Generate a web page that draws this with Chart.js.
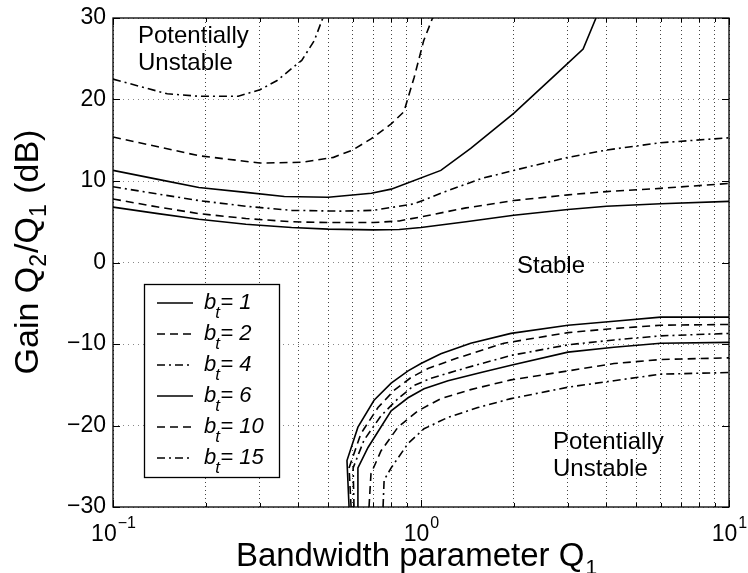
<!DOCTYPE html>
<html>
<head>
<meta charset="utf-8">
<script src="https://cdn.jsdelivr.net/npm/chart.js@4"></script>
<style>
  html, body { margin: 0; padding: 0; background: #fff; }
</style>
</head>
<body>
<canvas id="chart" width="748" height="573"></canvas>
<script>
// axis ticks
const xGridTicks = [0.1, 0.2, 0.3, 0.4, 0.5, 0.6, 0.7, 0.8, 0.9, 1, 2, 3, 4, 5, 6, 7, 8, 9, 10];
const xLabelTicks = [0.1, 1, 10];
const xLabelExp = ['-1', '0', '1'];
const yTicks = [-30, -20, -10, 0, 10, 20, 30];

const btValues = [1, 2, 4, 6, 10, 15];

// upper stability boundary: Q1 and gain (dB)
const upQ1_bt1 = [0.1, 0.14, 0.19, 0.27, 0.38, 0.5, 0.7, 0.85, 1, 1.4, 2, 3, 4, 6, 10];
const upG_bt1 = [6.8, 6.0, 5.3, 4.7, 4.3, 4.1, 4.0, 4.05, 4.3, 5.0, 5.8, 6.5, 6.9, 7.2, 7.5];
const upQ1_bt2 = [0.1, 0.14, 0.19, 0.27, 0.38, 0.5, 0.7, 0.85, 1, 1.4, 2, 3, 4, 6, 10];
const upG_bt2 = [7.8, 6.8, 6.0, 5.4, 5.0, 4.9, 4.9, 5.1, 5.6, 6.7, 7.6, 8.3, 8.7, 9.1, 9.7];
const upQ1_bt4 = [0.1, 0.14, 0.19, 0.27, 0.38, 0.55, 0.7, 0.95, 1.2, 1.57, 2, 3, 4, 6, 10];
const upG_bt4 = [9.3, 8.4, 7.6, 6.9, 6.4, 6.3, 6.4, 7.2, 8.7, 10.3, 11.3, 12.9, 13.8, 14.7, 15.3];
const upQ1_bt6 = [0.1, 0.14, 0.19, 0.27, 0.36, 0.5, 0.69, 0.8, 1.16, 1.45, 2.0, 2.78, 3.36, 3.7];
const upG_bt6 = [11.3, 10.2, 9.2, 8.6, 8.1, 8.0, 8.5, 9.0, 11.3, 14.0, 18.3, 23.3, 26.2, 30];
const upQ1_bt10 = [0.1, 0.14, 0.19, 0.3, 0.41, 0.52, 0.6, 0.69, 0.8, 0.88, 0.95, 1.02, 1.09];
const upG_bt10 = [15.4, 14.2, 13.1, 12.2, 12.3, 12.9, 13.8, 15.2, 17.0, 18.5, 22.7, 27.2, 30];
const upQ1_bt15 = [0.1, 0.15, 0.19, 0.255, 0.3, 0.34, 0.41, 0.45, 0.48];
const upG_bt15 = [22.5, 20.7, 20.4, 20.4, 21.2, 22.3, 24.8, 27.2, 30];

// lower stability boundary
const loQ1_bt1 = [0.584, 0.575, 0.624, 0.704, 0.80, 0.908, 1.0, 1.16, 1.45, 1.96, 3.0, 4.23, 6.0, 10];
const loG_bt1 = [-30, -24.3, -20.2, -16.9, -14.8, -13.3, -12.4, -11.2, -9.9, -8.7, -7.7, -7.2, -6.7, -6.7];
const loQ1_bt2 = [0.593, 0.584, 0.638, 0.725, 0.817, 0.929, 1.054, 1.318, 1.86, 3.0, 4.23, 6.0, 10];
const loG_bt2 = [-30, -25.2, -21.0, -17.8, -15.7, -14.1, -13.0, -11.7, -9.9, -8.6, -8.1, -7.7, -7.6];
const loQ1_bt4 = [0.606, 0.602, 0.653, 0.742, 0.842, 0.949, 1.078, 1.38, 1.96, 3.0, 4.23, 6.0, 10];
const loG_bt4 = [-30, -25.2, -21.8, -18.8, -16.7, -15.1, -14.2, -13.0, -11.4, -10.1, -9.5, -9.0, -8.7];
const loQ1_bt6 = [0.624, 0.624, 0.673, 0.80, 0.908, 1.023, 1.224, 1.566, 1.96, 3.0, 4.23, 6.0, 10];
const loG_bt6 = [-30, -25.2, -22.7, -18.2, -16.6, -15.5, -14.5, -13.5, -12.6, -11.0, -10.4, -9.9, -9.8];
const loQ1_bt10 = [0.678, 0.688, 0.742, 0.842, 0.978, 1.16, 1.45, 1.96, 3.0, 4.23, 6.0, 10];
const loG_bt10 = [-30, -25.9, -23.1, -20.2, -18.2, -16.7, -15.6, -14.4, -13.3, -12.4, -11.9, -11.7];
const loQ1_bt15 = [0.753, 0.759, 0.80, 0.908, 1.023, 1.224, 1.53, 1.96, 3.0, 4.23, 6.0, 10];
const loG_bt15 = [-30, -26.7, -25.2, -22.2, -20.4, -19.0, -17.8, -16.7, -15.3, -14.5, -13.7, -13.5];

const FONT = '"Liberation Sans", Arial, Helvetica, sans-serif';
const SOLID = [], DASHED = [8, 5], DASHDOT = [8, 4, 2, 4];
const lineStyles = [SOLID, DASHED, DASHDOT, SOLID, DASHED, DASHDOT];

const upperQ1 = [upQ1_bt1, upQ1_bt2, upQ1_bt4, upQ1_bt6, upQ1_bt10, upQ1_bt15];
const upperG = [upG_bt1, upG_bt2, upG_bt4, upG_bt6, upG_bt10, upG_bt15];
const lowerQ1 = [loQ1_bt1, loQ1_bt2, loQ1_bt4, loQ1_bt6, loQ1_bt10, loQ1_bt15];
const lowerG = [loG_bt1, loG_bt2, loG_bt4, loG_bt6, loG_bt10, loG_bt15];

const toPoints = (xs, ys) => xs.map((x, i) => ({ x: x, y: ys[i] }));

const datasets = [];
btValues.forEach((bt, i) => {
  const style = { borderColor: '#000', borderWidth: 1.6, borderDash: lineStyles[i], pointRadius: 0, showLine: true, tension: 0, fill: false };
  datasets.push({ label: 'bt=' + bt + ' upper', data: toPoints(upperQ1[i], upperG[i]), ...style });
  datasets.push({ label: 'bt=' + bt + ' lower', data: toPoints(lowerQ1[i], lowerG[i]), ...style });
});

// frame, ticks, labels, titles, legend -- drawn on top
const decor = {
  id: 'decor',
  afterDraw(chart) {
    const ctx = chart.ctx;
    const a = chart.chartArea;
    const xs = chart.scales.x, ys = chart.scales.y;
    ctx.save();
    ctx.strokeStyle = '#000';
    ctx.fillStyle = '#000';
    ctx.setLineDash([]);

    // inner tick marks
    ctx.lineWidth = 1;
    ctx.beginPath();
    yTicks.forEach(v => {
      const py = Math.round(ys.getPixelForValue(v)) + 0.5;
      ctx.moveTo(a.left, py); ctx.lineTo(a.left + 7, py);
      ctx.moveTo(a.right, py); ctx.lineTo(a.right - 7, py);
    });
    xGridTicks.forEach(v => {
      const px = Math.round(xs.getPixelForValue(v)) + 0.5;
      const len = xLabelTicks.includes(v) ? 7 : 4;
      ctx.moveTo(px, a.bottom); ctx.lineTo(px, a.bottom - len);
      ctx.moveTo(px, a.top); ctx.lineTo(px, a.top + len);
    });
    ctx.stroke();

    // frame
    ctx.lineWidth = 1.3;
    ctx.strokeRect(a.left, a.top, a.right - a.left, a.bottom - a.top);

    // y tick labels
    ctx.font = '23px ' + FONT;
    ctx.textAlign = 'right';
    ctx.textBaseline = 'middle';
    yTicks.forEach(v => {
      const txt = v < 0 ? '\u2212' + Math.abs(v) : String(v);
      ctx.fillText(txt, a.left - 7, ys.getPixelForValue(v));
    });

    // x tick labels 10^n
    ctx.textBaseline = 'alphabetic';
    ctx.textAlign = 'left';
    xLabelTicks.forEach((v, i) => {
      const px = xs.getPixelForValue(v);
      ctx.font = '23px ' + FONT;
      const wBase = ctx.measureText('10').width;
      const sup = xLabelExp[i].replace('-', '\u2212');
      ctx.font = '16px ' + FONT;
      const wSup = ctx.measureText(sup).width;
      const x0 = px - (wBase + wSup) / 2;
      ctx.font = '23px ' + FONT;
      ctx.fillText('10', x0, a.bottom + 34);
      ctx.font = '16px ' + FONT;
      ctx.fillText(sup, x0 + wBase + 1, a.bottom + 21);
    });

    // x axis title
    const cx = (a.left + a.right) / 2;
    ctx.font = '33px ' + FONT;
    const wMain = ctx.measureText('Bandwidth parameter Q').width;
    ctx.font = '21px ' + FONT;
    const wSub = ctx.measureText('1').width;
    const tx = cx - 5 - (wMain + wSub) / 2;
    ctx.font = '33px ' + FONT;
    ctx.fillText('Bandwidth parameter Q', tx, 566);
    ctx.font = '21px ' + FONT;
    ctx.fillText('1', tx + wMain + 1, 574);

    // y axis title (rotated)
    ctx.save();
    ctx.translate(38, 252);
    ctx.rotate(-Math.PI / 2);
    const parts = [['Gain Q', 0], ['2', 1], ['/Q', 0], ['1', 1], [' (dB)', 0]];
    let total = 0;
    parts.forEach(p => { ctx.font = (p[1] ? '23px ' : '34px ') + FONT; total += ctx.measureText(p[0]).width + (p[1] ? 1 : 0); });
    let ty = -total / 2;
    parts.forEach(p => {
      ctx.font = (p[1] ? '23px ' : '34px ') + FONT;
      ctx.fillText(p[0], ty, p[1] ? 8 : 0);
      ty += ctx.measureText(p[0]).width + (p[1] ? 1 : 0);
    });
    ctx.restore();

    // region annotations
    ctx.font = '24px ' + FONT;
    ctx.textAlign = 'left';
    ctx.fillText('Potentially', 138, 43);
    ctx.fillText('Unstable', 138, 70);
    ctx.fillText('Stable', 517, 273);
    ctx.fillText('Potentially', 553, 449);
    ctx.fillText('Unstable', 553, 476);

    // legend
    const lx = 144, lyTop = 284, lw = 135, lh = 193;
    ctx.fillStyle = '#fff';
    ctx.fillRect(lx, lyTop, lw, lh);
    ctx.lineWidth = 1.3;
    ctx.strokeRect(lx + 0.5, lyTop + 0.5, lw, lh);
    btValues.forEach((bt, i) => {
      const y = lyTop + 19 + i * 31;
      ctx.setLineDash(lineStyles[i]);
      ctx.lineWidth = 1.5;
      ctx.beginPath();
      ctx.moveTo(157, y); ctx.lineTo(193, y);
      ctx.stroke();
      ctx.setLineDash([]);
      ctx.fillStyle = '#000';
      ctx.font = 'italic 22px ' + FONT;
      ctx.fillText('b', 204, y + 6);
      const wb = ctx.measureText('b').width;
      ctx.font = 'italic 17px ' + FONT;
      ctx.fillText('t', 204 + wb - 1, y + 15);
      ctx.font = 'italic 22px ' + FONT;
      ctx.fillText('= ' + bt, 204 + wb + 4, y + 6);
    });
    ctx.restore();
  }
};

new Chart(document.getElementById('chart'), {
  type: 'scatter',
  data: { datasets: datasets },
  options: {
    responsive: false,
    animation: false,
    layout: { padding: { left: 113, right: 19, top: 18, bottom: 66 } },
    plugins: { legend: { display: false }, tooltip: { enabled: false } },
    scales: {
      x: {
        type: 'logarithmic',
        min: 0.1,
        max: 10,
        afterBuildTicks: (scale) => { scale.ticks = xGridTicks.map(v => ({ value: v })); },
        ticks: { display: false },
        grid: { color: '#444', lineWidth: 1, drawTicks: false },
        border: { display: false, dash: [1, 3] }
      },
      y: {
        min: -30,
        max: 30,
        afterBuildTicks: (scale) => { scale.ticks = yTicks.map(v => ({ value: v })); },
        ticks: { display: false },
        grid: { color: '#888', lineWidth: 1, drawTicks: false },
        border: { display: false, dash: [1, 4] }
      }
    }
  },
  plugins: [decor]
});
</script>
</body>
</html>
